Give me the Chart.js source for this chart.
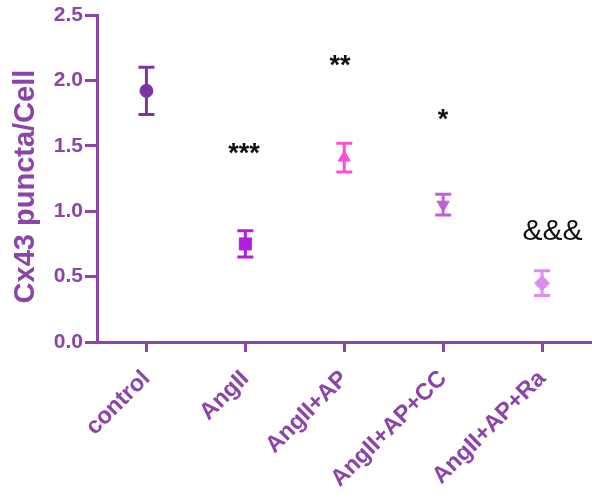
<!DOCTYPE html>
<html>
<head>
<meta charset="utf-8">
<script src="https://cdn.jsdelivr.net/npm/chart.js@4"></script>
<style>
  html, body { margin: 0; padding: 0; background: #fff; overflow: hidden; }
  canvas { display: block; }
</style>
</head>
<body>
<canvas id="c" width="600" height="499"></canvas>
<script>
// values
var groups = ['control', 'AngII', 'AngII+AP', 'AngII+AP+CC', 'AngII+AP+Ra'];
var means = [1.92, 0.75, 1.41, 1.05, 0.45];
var sems = [0.18, 0.10, 0.11, 0.08, 0.095];
var sigMarks = ['', '***', '**', '*', '&&&'];
var sigLevels = [null, 1.48, 2.15, 1.74, 0.86];
var yTicks = [0, 0.5, 1.0, 1.5, 2.0, 2.5];

var AXIS = '#8C43AA';
var FONT = '"Liberation Sans", Arial, sans-serif';
var colors = ['#7A35A3', '#B21EE0', '#FF4FD6', '#BB62DB', '#DF8BF4'];
var shapes = ['circle', 'rect', 'triangle', 'triangle', 'rectRot'];
var turns = [0, 0, 0, 180, 0];
var sizes = [6.5, 8.5, 7, 7, 7.5];

var errorBars = {
	id: 'errorBars',
	beforeDatasetsDraw: function (chart) {
		var ctx = chart.ctx, x = chart.scales.x, y = chart.scales.y;
		ctx.save();
		ctx.lineWidth = 3;
		for (var i = 0; i < means.length; i++) {
			var px = x.getPixelForValue(i);
			var top = y.getPixelForValue(means[i] + sems[i]);
			var bot = y.getPixelForValue(means[i] - sems[i]);
			ctx.strokeStyle = colors[i];
			ctx.beginPath();
			ctx.moveTo(px, top); ctx.lineTo(px, bot);
			ctx.moveTo(px - 8, top); ctx.lineTo(px + 8, top);
			ctx.moveTo(px - 8, bot); ctx.lineTo(px + 8, bot);
			ctx.stroke();
		}
		ctx.restore();
	}
};

// significance marks, glyph ink centred on the given level
var sigDx = [0, -1, -4, 0, 11];
var sigMarksPlugin = {
	id: 'sigMarks',
	afterDatasetsDraw: function (chart) {
		var ctx = chart.ctx, x = chart.scales.x, y = chart.scales.y;
		ctx.save();
		ctx.fillStyle = '#111';
		ctx.textBaseline = 'alphabetic';
		ctx.textAlign = 'left';
		for (var i = 0; i < sigMarks.length; i++) {
			if (!sigMarks[i]) continue;
			ctx.font = sigMarks[i].charAt(0) == '&' ? '30px ' + FONT : 'bold 27px ' + FONT;
			var m = ctx.measureText(sigMarks[i]);
			var cx = x.getPixelForValue(i) + sigDx[i];
			var cy = y.getPixelForValue(sigLevels[i]);
			var w = m.actualBoundingBoxLeft + m.actualBoundingBoxRight;
			ctx.fillText(sigMarks[i], cx - w / 2 + m.actualBoundingBoxLeft,
				cy + (m.actualBoundingBoxAscent - m.actualBoundingBoxDescent) / 2);
		}
		ctx.restore();
	}
};

new Chart(document.getElementById('c'), {
	type: 'line',
	data: {
		labels: groups,
		datasets: [{
			data: means,
			showLine: false,
			pointStyle: shapes,
			pointRotation: turns,
			pointRadius: sizes,
			pointHoverRadius: sizes,
			pointBackgroundColor: colors,
			pointBorderColor: colors,
			pointBorderWidth: 1
		}]
	},
	options: {
		responsive: false,
		animation: false,
		events: [],
		layout: { padding: { top: 15, right: 0, left: 0, bottom: 0 } },
		plugins: { legend: { display: false }, tooltip: { enabled: false } },
		scales: {
			x: {
				offset: true,
				grid: { drawOnChartArea: false, offset: false, tickLength: 10, tickWidth: 3, tickColor: AXIS },
				border: { color: AXIS, width: 3 },
				ticks: { color: AXIS, font: { family: FONT, size: 23.5, weight: 'bold' }, minRotation: 45, maxRotation: 45, padding: 13 },
				afterFit: function (s) { s.height = 157; }
			},
			y: {
				min: 0,
				max: 2.5,
				afterBuildTicks: function (s) { s.ticks = yTicks.map(function (v) { return { value: v }; }); },
				grid: { drawOnChartArea: false, tickLength: 12, tickWidth: 3, tickColor: AXIS },
				border: { color: AXIS, width: 3 },
				ticks: {
					color: AXIS, padding: 2,
					font: { family: FONT, size: 21, weight: 'bold' },
					callback: function (v) { return Number(v).toFixed(1); }
				},
				title: {
					display: true, text: 'Cx43 puncta/Cell  ', color: AXIS,
					font: { family: FONT, size: 29, weight: 'bold' },
					padding: { top: 9, bottom: 0 }
				},
				afterFit: function (s) { s.width = 97; }
			}
		}
	},
	plugins: [errorBars, sigMarksPlugin]
});
</script>
</body>
</html>
